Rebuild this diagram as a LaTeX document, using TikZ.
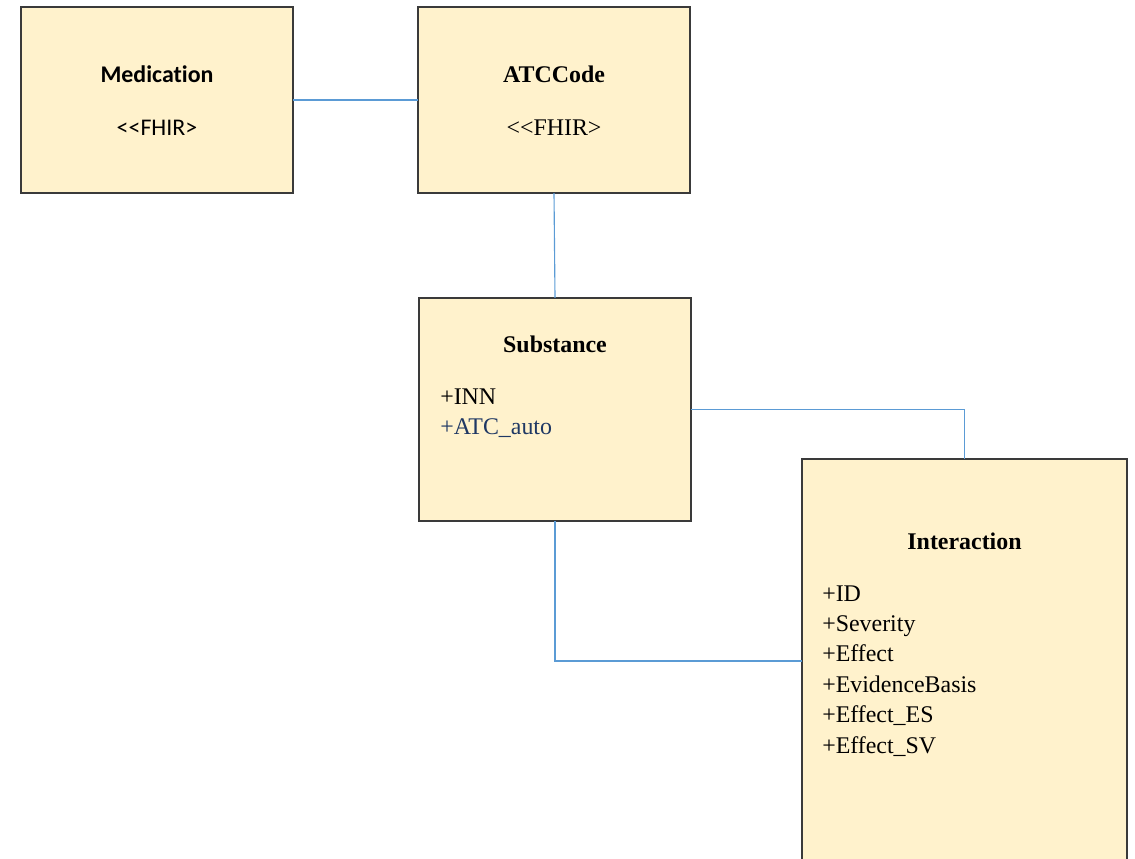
\documentclass[tikz,border=0pt]{standalone}
\usepackage{fontspec}
\setmainfont{Liberation Serif}
\newfontfamily\calibri[Ligatures=NoCommon]{Carlito}
\definecolor{fondclasse}{HTML}{FFF2CC}
\definecolor{bordclasse}{HTML}{3A3A3A}
\definecolor{bleulien}{HTML}{5B9BD5}
\definecolor{bleutexte}{HTML}{1F3864}
\begin{document}
\begin{tikzpicture}[x=0.025cm,y=-0.025cm,
	classe/.style={draw=bordclasse,fill=fondclasse,line width=1pt,inner sep=0pt,outer sep=0pt,minimum width=6.8cm},
	titre/.style={font=\fontsize{17}{20}\selectfont\bfseries,anchor=base,inner sep=0pt},
	attribut/.style={font=\fontsize{17}{20}\selectfont,anchor=base west,inner sep=0pt},
	lien/.style={draw=bleulien,line width=0.8pt}]
%					Cadre de la figure :
					\useasboundingbox (0,0) rectangle (1135,859);
					\clip (0,0) rectangle (1135,859);
%					Tracé des classes :
					\node[classe,minimum height=4.65cm] (medication) at (157,100) {};
					\node[classe,minimum height=4.65cm] (atccode) at (554,100) {};
					\node[classe,minimum height=5.575cm] (substance) at (555,409.5) {};
					\node[classe,minimum width=8.125cm,minimum height=10.1cm] (interaction) at (964.5,661) {};
%					Titres et stéréotypes :
					\node[titre,font=\fontsize{17}{20}\selectfont\calibri\bfseries] (medtitre) at (157,82.5) {Medication};
					\node[titre,font=\fontsize{17}{20}\selectfont\calibri] (medfhir) at (157,135.5) {<{}<FHIR>};
					\node[titre] (atctitre) at (554,83) {ATCCode};
					\node[titre,font=\fontsize{17}{20}\selectfont] (atcfhir) at (554,136) {<{}<FHIR>};
					\node[titre] (subtitre) at (555,352) {Substance};
					\node[titre] (inttitre) at (964.5,549) {Interaction};
%					Attributs :
					\node[attribut] (inn) at (440,404) {+INN};
					\node[attribut,text=bleutexte] (atcauto) at (440,434.5) {+ATC\_auto};
					\node[attribut] (id) at (822,601) {+ID};
					\node[attribut] (severity) at (822,631.4) {+Severity};
					\node[attribut] (effect) at (822,661.8) {+Effect};
					\node[attribut] (evidence) at (822,692.2) {+EvidenceBasis};
					\node[attribut] (effectes) at (822,722.6) {+Effect\_ES};
					\node[attribut] (effectsv) at (822,753) {+Effect\_SV};
%					Tracé des liens :
					\draw[lien] (medication.east) -- (atccode.west);
					\draw[lien] (atccode.south) -- (substance.north);
					\draw[lien] (substance.east) -| (interaction.north);
					\draw[lien] (substance.south) |- (interaction.west);
				\end{tikzpicture}
\end{document}
